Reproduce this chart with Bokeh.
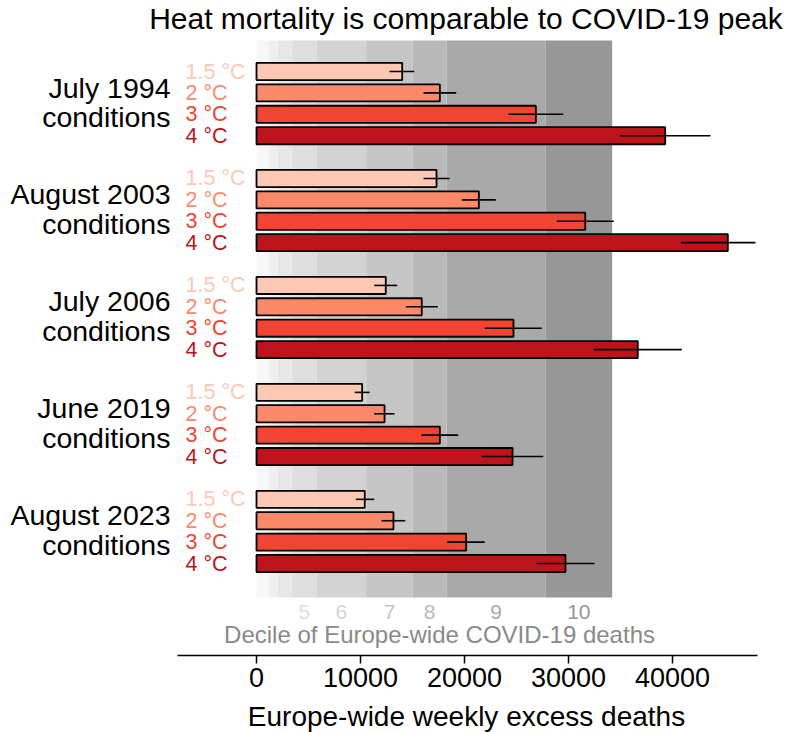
from bokeh.plotting import figure
from bokeh.models import Range1d, ColumnDataSource, LabelSet, Label, FixedTicker
from bokeh.core.properties import value
from bokeh.embed import file_html
from bokeh.resources import INLINE

# ---- data -------------------------------------------------------------
events = ["July 1994", "August 2003", "July 2006", "June 2019", "August 2023"]
warming_levels = ["1.5 °C", "2 °C", "3 °C", "4 °C"]
warming_colors = ["#fdc9b4", "#fc8a6a", "#f14432", "#bc141a"]

# Europe-wide weekly excess deaths (central estimate, lower, upper) per warming level
deaths_1994 = [14010, 17630, 26860, 39300]
low_1994 = [12790, 16060, 24230, 34930]
high_1994 = [15160, 19200, 29490, 43650]

deaths_2003 = [17310, 21380, 31610, 45320]
low_2003 = [16060, 19740, 28880, 40800]
high_2003 = [18560, 23010, 34360, 47980]

deaths_2006 = [12430, 15890, 24710, 36660]
low_2006 = [11320, 14360, 21950, 32430]
high_2006 = [13530, 17430, 27430, 40890]

deaths_2019 = [10160, 12310, 17630, 24620]
low_2019 = [9450, 11320, 15870, 21660]
high_2019 = [10870, 13270, 19390, 27570]

deaths_2023 = [10410, 13170, 20160, 29710]
low_2023 = [9550, 12020, 18340, 26920]
high_2023 = [11320, 14300, 21950, 32500]

# Deciles of Europe-wide weekly COVID-19 deaths (band edges, deaths per week)
decile_numbers = [2, 3, 4, 5, 6, 7, 8, 9, 10]
decile_lower = [0, 1180, 2050, 3430, 5770, 10550, 15030, 18270, 27790]
decile_upper = [1180, 2050, 3430, 5770, 10550, 15030, 18270, 27790, 34200]
decile_colors = ["#f7f7f7", "#efefef", "#e7e7e7", "#dedede", "#d3d3d3",
                 "#c6c6c6", "#b9b9b9", "#a9a9a9", "#979797"]

x_ticks = [0, 10000, 20000, 30000, 40000]

# ---- layout helpers ---------------------------------------------------
FONT = "Liberation Sans"
GROUP_STEP = 5          # four bars plus a gap per event
BAND_TOP, BAND_BOTTOM = -1.45, 24.59
DECILE_LABEL_Y, DECILE_TITLE_Y = 25.29, 26.32
AXIS_Y, AXIS_TITLE_Y = 27.30, 30.15
AXIS_SPAN = (-7600, 48170)

central = [deaths_1994, deaths_2003, deaths_2006, deaths_2019, deaths_2023]
lows = [low_1994, low_2003, low_2006, low_2019, low_2023]
highs = [high_1994, high_2003, high_2006, high_2019, high_2023]

rows = dict(y=[], deaths=[], low=[], high=[], color=[], level=[])
for g, _ in enumerate(events):
    for k, lvl in enumerate(warming_levels):
        rows["y"].append(g * GROUP_STEP + k)
        rows["deaths"].append(central[g][k])
        rows["low"].append(lows[g][k])
        rows["high"].append(highs[g][k])
        rows["color"].append(warming_colors[k])
        rows["level"].append(lvl)
bars = ColumnDataSource(rows)

p = figure(width=789, height=732,
           x_range=Range1d(-24615, 51250), y_range=Range1d(30.90, -3.32),
           output_backend="svg", toolbar_location=None, y_axis_location=None,
           min_border=0, outline_line_color=None)
p.xgrid.visible = False
p.ygrid.visible = False

# decile background bands
bands = ColumnDataSource(dict(
    left=decile_lower, right=decile_upper, color=decile_colors,
    mid=[(a + b) / 2 for a, b in zip(decile_lower, decile_upper)],
    label=[str(d) if d >= 5 else "" for d in decile_numbers],
))
p.quad(left="left", right="right", top=BAND_TOP, bottom=BAND_BOTTOM,
       fill_color="color", line_color=None, source=bands)
p.text(x="mid", y=DECILE_LABEL_Y, text="label", text_color="color",
       text_align="center", text_baseline="middle", text_font=value(FONT),
       text_font_size="21px", source=bands)
p.text(x=[17600], y=[DECILE_TITLE_Y], text=["Decile of Europe-wide COVID-19 deaths"],
       text_color="#8a8a8a", text_align="center", text_baseline="middle",
       text_font=value(FONT), text_font_size="24px")

# bars and uncertainty ranges
p.hbar(y="y", left=0, right="deaths", height=0.8, fill_color="color",
       line_color="black", line_width=1.8, source=bars)
p.segment(x0="low", y0="y", x1="high", y1="y", line_color="black",
          line_width=1.6, source=bars)

# warming-level labels beside each bar
p.text(x=-6830, y="y", text="level", text_color="color", text_align="left",
       text_baseline="middle", text_font=value(FONT), text_font_size="21.5px",
       source=bars)

# event names on the left
name_src = ColumnDataSource(dict(
    x=[-8270] * (2 * len(events)),
    y=[g * GROUP_STEP + 1.5 + dy for g in range(len(events)) for dy in (-0.284, 1.095)],
    text=[t for e in events for t in (e, "conditions")],
))
p.add_layout(LabelSet(x="x", y="y", text="text", source=name_src,
                      text_align="right", text_baseline="alphabetic",
                      text_font=value(FONT), text_font_size="28.5px",
                      text_color="black"))

p.add_layout(Label(x=20140, y=-2.48, text="Heat mortality is comparable to COVID-19 peak",
                   text_align="center", text_baseline="middle",
                   text_font=FONT, text_font_size="30px", text_color="black"))

# x axis, drawn at a fixed height and limited to the panel width
ax = p.xaxis[0]
ax.fixed_location = AXIS_Y
ax.bounds = AXIS_SPAN
ax.ticker = FixedTicker(ticks=x_ticks)
ax.major_label_text_font = FONT
ax.major_label_text_font_size = "27px"
ax.major_label_text_color = "black"
ax.major_label_standoff = 5
ax.axis_line_color = "black"
ax.axis_line_width = 1.5
ax.major_tick_line_color = "black"
ax.major_tick_line_width = 1.5
ax.major_tick_out = 8
ax.major_tick_in = 0
ax.minor_tick_out = 0
ax.minor_tick_in = 0

p.text(x=[20190], y=[AXIS_TITLE_Y], text=["Europe-wide weekly excess deaths"],
       text_color="black", text_align="center", text_baseline="middle",
       text_font=value(FONT), text_font_size="28px")

open("out.html", "w").write(file_html(p, INLINE))
